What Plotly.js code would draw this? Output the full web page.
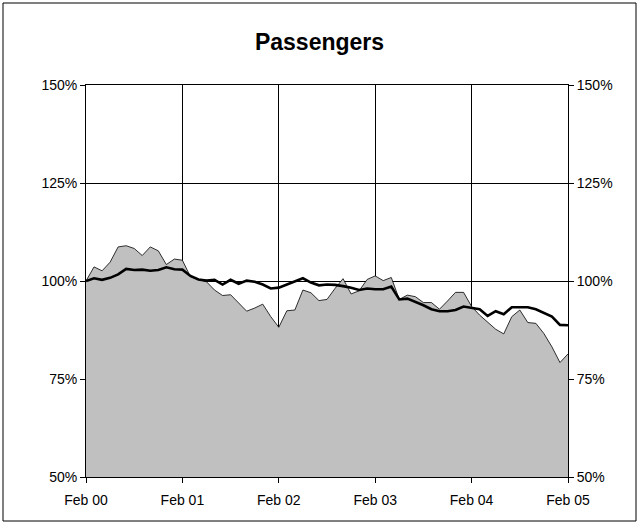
<!DOCTYPE html>
<html>
<head>
<meta charset="utf-8">
<script src="https://cdn.plot.ly/plotly-3.0.1.min.js"></script>
<style>
  html, body { margin: 0; padding: 0; background: #fff; }
  #chart { width: 639px; height: 525px; }
</style>
</head>
<body>
<div id="chart"></div>
<script>
// Monthly passenger index, Feb 2000 .. Feb 2005 (percent of Feb 2000)
const monthlyValues = [
  100.0, 103.6, 102.6, 104.8, 108.7, 109.0, 108.3, 106.5, 108.7, 107.7, 104.2, 105.6,
  105.3, 101.1, 100.4, 99.8, 97.7, 96.3, 96.5, 94.5, 92.3, 93.1, 94.1, 90.9,
  88.2, 92.4, 92.6, 97.7, 97.0, 95.0, 95.3, 98.1, 100.6, 96.7, 97.5, 100.4,
  101.3, 100.1, 100.9, 95.3, 96.4, 96.0, 94.5, 94.5, 92.8, 94.9, 97.1, 97.1,
  93.5, 91.3, 89.6, 87.7, 86.5, 90.9, 92.6, 89.4, 89.2, 86.6, 83.2, 79.2,
  81.4
];
// Smoothed / trend series
const trendValues = [
  100.0, 100.7, 100.3, 100.8, 101.7, 103.1, 102.8, 102.9, 102.6, 102.8, 103.5, 103.0,
  102.9, 101.3, 100.4, 100.1, 100.3, 99.1, 100.3, 99.3, 100.1, 99.8, 99.1, 98.1,
  98.3, 99.1, 99.7, 100.7, 99.6, 98.9, 99.1, 99.0, 98.7, 98.3, 97.7, 98.1,
  97.9, 97.9, 98.6, 95.3, 95.5, 94.7, 93.8, 92.8, 92.3, 92.3, 92.6, 93.5,
  93.1, 92.8, 91.1, 92.3, 91.5, 93.3, 93.3, 93.3, 92.8, 91.8, 90.9, 88.8,
  88.7
];
const tickLabels = ["Feb 00", "Feb 01", "Feb 02", "Feb 03", "Feb 04", "Feb 05"];
const yTickVals = [50, 75, 100, 125, 150];
const yTickText = ["50%", "75%", "100%", "125%", "150%"];

const months = monthlyValues.map((_, i) => i);
const tickPositions = tickLabels.map((_, i) => i * 12);

const font = { family: "Liberation Sans, Arial, sans-serif", size: 14, color: "#000" };

const traces = [
  {
    x: months, y: monthlyValues, type: "scatter", mode: "lines",
    fill: "tozeroy", fillcolor: "#C0C0C0",
    line: { color: "#000", width: 0.8 },
    hoverinfo: "skip", yaxis: "y"
  },
  {
    x: months, y: trendValues, type: "scatter", mode: "lines",
    line: { color: "#000", width: 2.6 },
    hoverinfo: "skip", yaxis: "y2"
  }
];

const yCommon = {
  range: [50, 150], tickvals: yTickVals, ticktext: yTickText,
  ticks: "outside", ticklen: 5, tickcolor: "#000", tickwidth: 1,
  showline: true, linecolor: "#000", linewidth: 1,
  zeroline: false, tickfont: font, fixedrange: true
};

const layout = {
  width: 639, height: 525,
  margin: { l: 86, r: 71, t: 85, b: 48, pad: 0 },
  paper_bgcolor: "#fff", plot_bgcolor: "#fff",
  showlegend: false,
  font: font,
  title: {
    text: "<b>Passengers</b>",
    font: { family: "Liberation Sans, Arial, sans-serif", size: 23, color: "#000" },
    xref: "container", x: 0.5, xanchor: "center",
    yref: "container", y: 1 - 42 / 525, yanchor: "middle"
  },
  xaxis: {
    range: [0, 60], tickvals: tickPositions, ticktext: tickLabels,
    ticks: "outside", ticklen: 5, tickcolor: "#000", tickwidth: 1,
    ticklabelstandoff: 5,
    showgrid: true, gridcolor: "#000", gridwidth: 1,
    showline: true, linecolor: "#000", linewidth: 1, mirror: true,
    zeroline: false, tickfont: font, fixedrange: true
  },
  yaxis: Object.assign({}, yCommon, {
    side: "left", showgrid: true, gridcolor: "#000", gridwidth: 1
  }),
  yaxis2: Object.assign({}, yCommon, {
    side: "right", overlaying: "y", showgrid: false
  }),
  shapes: [{
    type: "rect", xref: "paper", yref: "paper",
    x0: (3 - 86) / 482, x1: (636 - 86) / 482,
    y0: (477 - 521) / 392, y1: (477 - 3) / 392,
    line: { color: "#000", width: 1 }, fillcolor: "rgba(0,0,0,0)", layer: "below"
  }]
};

Plotly.newPlot("chart", traces, layout, { staticPlot: true, displayModeBar: false });
</script>
</body>
</html>
